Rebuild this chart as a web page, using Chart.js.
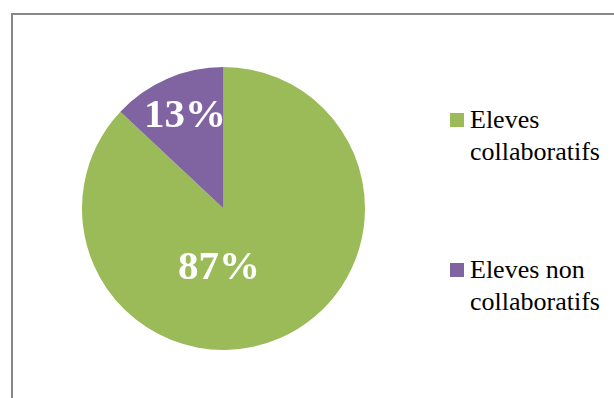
<!DOCTYPE html>
<html>
<head>
<meta charset="utf-8">
<script src="https://cdn.jsdelivr.net/npm/chart.js@4/dist/chart.umd.min.js"></script>
<style>
  html, body { margin: 0; padding: 0; width: 614px; height: 398px; overflow: hidden; background: #fff; }
  .frame { position: absolute; left: 11px; top: 13px; width: 700px; height: 500px; border: 2px solid #888; background: #fff; }
  #pie-wrap { position: absolute; left: 82px; top: 67px; width: 283px; height: 283px; }
  #eleves-legend-container { position: absolute; left: 450px; top: 104px; width: 164px; }
  .legend-text {
    margin: 0; padding: 0; width: 142px; color: #000;
    font-family: 'Liberation Serif', 'Times New Roman', serif;
    font-size: 26px; line-height: 32px;
  }
</style>
</head>
<body>
<div class="frame"></div>
<div id="pie-wrap"><canvas id="eleves"></canvas></div>
<div id="eleves-legend-container"></div>

<script>
const labels = ['Eleves collaboratifs', 'Eleves non collaboratifs'];
const percents = [87, 13];
const colors = ['#9BBB59', '#8064A2'];

// where each value label sits, as a fraction of the radius from the centre
const labelOffsets = [[-0.032, 0.498], [-0.272, -0.576]];

const getOrCreateLegendList = (chart, id) => {
  const legendContainer = document.getElementById(id);
  let listContainer = legendContainer.querySelector('ul');
  if (!listContainer) {
    listContainer = document.createElement('ul');
    listContainer.style.listStyle = 'none';
    listContainer.style.margin = 0;
    listContainer.style.padding = 0;
    legendContainer.appendChild(listContainer);
  }
  return listContainer;
};

const htmlLegendPlugin = {
  id: 'htmlLegend',
  afterUpdate(chart, args, options) {
    const ul = getOrCreateLegendList(chart, options.containerID);
    while (ul.firstChild) {
      ul.firstChild.remove();
    }
    const items = chart.options.plugins.legend.labels.generateLabels(chart);
    items.forEach((item, i) => {
      const li = document.createElement('li');
      li.style.display = 'flex';
      li.style.alignItems = 'flex-start';
      li.style.marginBottom = i === 0 ? '86px' : '0';

      // Color box
      const boxSpan = document.createElement('span');
      boxSpan.style.background = item.fillStyle;
      boxSpan.style.display = 'inline-block';
      boxSpan.style.flexShrink = 0;
      boxSpan.style.width = '14px';
      boxSpan.style.height = '14px';
      boxSpan.style.marginTop = '9px';
      boxSpan.style.marginRight = '6px';

      // Text
      const textContainer = document.createElement('p');
      textContainer.className = 'legend-text';
      textContainer.appendChild(document.createTextNode(item.text));

      li.appendChild(boxSpan);
      li.appendChild(textContainer);
      ul.appendChild(li);
    });
  }
};

// white percentage labels inside the slices
const sliceLabelPlugin = {
  id: 'sliceLabels',
  afterDatasetsDraw(chart) {
    const ctx = chart.ctx;
    const meta = chart.getDatasetMeta(0);
    ctx.save();
    ctx.font = 'bold 41px "Liberation Serif"';
    ctx.fillStyle = '#fff';
    ctx.textAlign = 'center';
    ctx.textBaseline = 'alphabetic';
    meta.data.forEach((arc, i) => {
      const r = arc.outerRadius;
      const x = arc.x + labelOffsets[i][0] * r;
      const y = arc.y + labelOffsets[i][1] * r;
      ctx.fillText(percents[i] + '%', x, y);
    });
    ctx.restore();
  }
};

new Chart(document.getElementById('eleves'), {
  type: 'pie',
  data: {
    labels: labels,
    datasets: [{
      data: percents,
      backgroundColor: colors,
      borderWidth: 0
    }]
  },
  options: {
    responsive: true,
    maintainAspectRatio: false,
    animation: false,
    layout: { padding: 0 },
    plugins: {
      htmlLegend: { containerID: 'eleves-legend-container' },
      legend: { display: false },
      tooltip: { enabled: false }
    }
  },
  plugins: [htmlLegendPlugin, sliceLabelPlugin]
});
</script>
</body>
</html>
